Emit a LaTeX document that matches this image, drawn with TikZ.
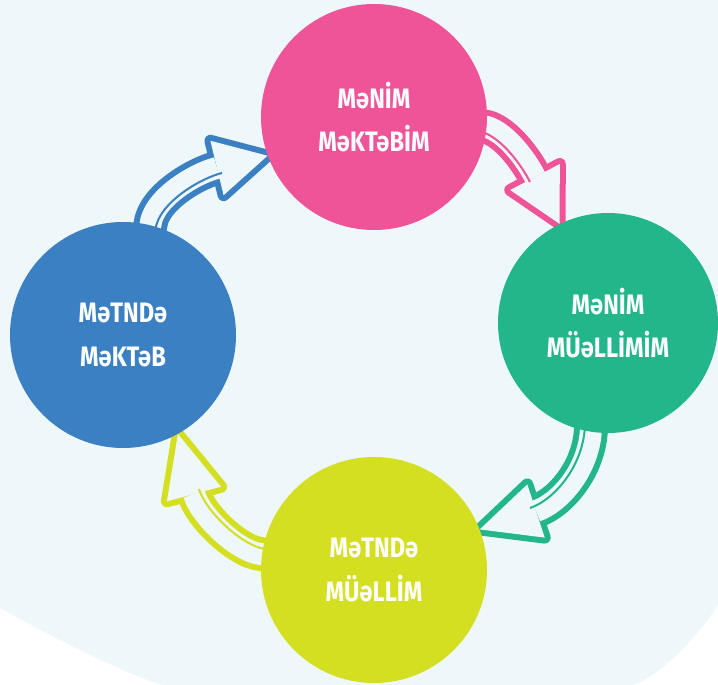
\documentclass[tikz,border=0pt]{standalone}
\usepackage{fontspec}
\newfontfamily\circfont[FakeStretch=0.84]{Fira Sans}
\usetikzlibrary{calc, backgrounds}

\definecolor{bgcyan}{HTML}{EEF7F9}
\definecolor{mypink}{HTML}{EF5398}
\definecolor{mygreen}{HTML}{22B68A}
\definecolor{myyellow}{HTML}{D5DF22}
\definecolor{myblue}{HTML}{3A80C2}

\tikzset{
  bubble/.style={circle, inner sep=0pt, minimum size=6.78cm, text=white, align=center,
    font=\circfont\bfseries\fontsize{24}{37}\selectfont},
  arrowbody/.style={line width=1.02cm, line join=round},
  arrowgap/.style={draw=bgcyan, line width=0.66cm, line join=round},
  arrowhead/.style={line width=0.36cm, line join=round},
  arrowstripe/.style={line width=0.06cm}
}
\newcommand{\headw}{0.84cm}
% #1 colour, #2 node, #3 anchor, #4 #5 controls, #6 head base, #7 tip, #8 stripe shift
\newcommand{\cyclearrow}[8]{%
  \draw[arrowbody, draw=#1] (#2.center) -- (#2.#3) .. controls (#4) and (#5) .. (#6);
  \draw[arrowhead, draw=#1, fill=#1] ($(#6)!\headw!90:(#7)$) -- (#7) -- ($(#6)!\headw!-90:(#7)$) -- cycle;
  \draw[arrowgap] (#2.center) -- (#2.#3) .. controls (#4) and (#5) .. (#6);
  \fill[bgcyan] ($(#6)!\headw!90:(#7)$) -- (#7) -- ($(#6)!\headw!-90:(#7)$) -- cycle;
  \draw[arrowstripe, draw=#1] ($(#2.#3)+(#8)$) .. controls ($(#4)+(#8)$) and ($(#5)+(#8)$) .. ($(#6)+(#8)$);
}

\begin{document}
\begin{tikzpicture}[x=0.03cm, y=-0.03cm]
\useasboundingbox (0,0) rectangle (718,685);

\node[bubble, fill=mypink] (pink) at (374,117) {MəNİM\\MəKTəBİM};
\node[bubble, fill=mygreen, minimum size=6.6cm] (green) at (608,323) {MəNİM\\MÜəLLİMİM};
\node[bubble, fill=myyellow] (yellow) at (374,570) {MəTNDə\\MÜəLLİM};
\node[bubble, fill=myblue] (blue) at (123,335) {MəTNDə\\MəKTəB};

\coordinate (tipG) at (green.116);
\coordinate (tipY) at (yellow.21);
\coordinate (tipB) at (blue.-61);
\coordinate (tipP) at (pink.200);

\begin{pgfonlayer}{background}
  \begin{scope}
    \clip (0,0) rectangle (718,685);
    \fill[bgcyan] (0,0) -- (718,0) -- (718,605)
      -- plot[smooth] coordinates {(718,605) (633,685) (400,725) (163,685) (0,608)} -- cycle;
  \end{scope}
  \cyclearrow{mypink}{pink}{-5}{507,133}{527,161}{535,177}{tipG}{-5,5}
  \cyclearrow{mygreen}{green}{-99}{588,470}{560,503}{536,511}{tipY}{-6,-3}
  \cyclearrow{myyellow}{yellow}{172}{237,552}{200,515}{194,494}{tipB}{5,-5}
  \cyclearrow{myblue}{blue}{76}{153,198}{196,173}{217,168}{tipP}{5,5}
\end{pgfonlayer}
\end{tikzpicture}
\end{document}
